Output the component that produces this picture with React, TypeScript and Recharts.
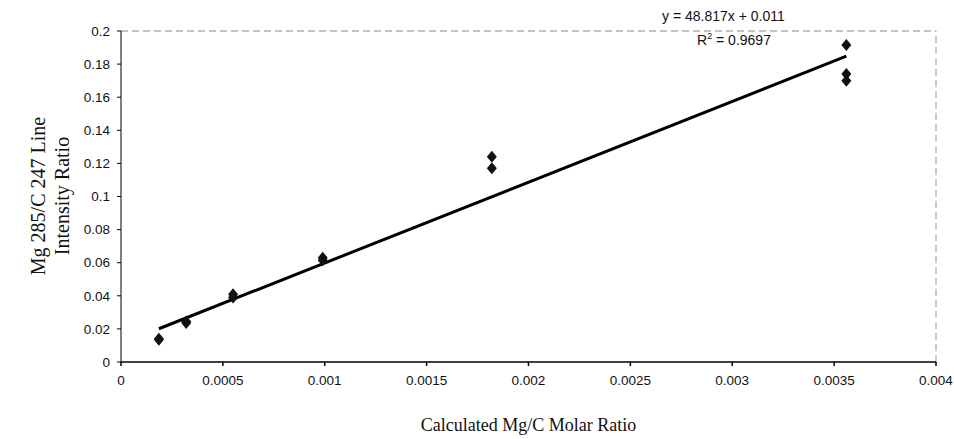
import { ComposedChart, Scatter, Line, XAxis, YAxis, ReferenceLine, Label } from "recharts"

// values
const molarRatio = [0.000186, 0.000186, 0.00032, 0.00032, 0.00055, 0.00055, 0.00099, 0.00099, 0.00182, 0.00182, 0.00356, 0.00356, 0.00356]
const intensityRatio = [0.0135, 0.014, 0.0236, 0.0245, 0.041, 0.039, 0.063, 0.0615, 0.124, 0.117, 0.1915, 0.174, 0.17]

// linear fit endpoints (y = 48.817x + 0.011)
const trendX = [0.000186, 0.00356]
const trendY = [0.0201, 0.1848]

const xTicks = [0, 0.0005, 0.001, 0.0015, 0.002, 0.0025, 0.003, 0.0035, 0.004]
const yTicks = [0, 0.02, 0.04, 0.06, 0.08, 0.1, 0.12, 0.14, 0.16, 0.18, 0.2]

const points = molarRatio.map((x, i) => ({ x, y: intensityRatio[i] }))
const trend = trendX.map((x, i) => ({ x, y: trendY[i] }))

const tickStyle = { fontFamily: "Liberation Sans, Arial, sans-serif", fontSize: 13.5, fill: "#111" }
const serif = "Liberation Serif, Times New Roman, serif"

const Diamond = (props: any) => {
  const { cx, cy } = props
  return (
    <polygon
      points={`${cx},${cy - 6} ${cx + 5},${cy} ${cx},${cy + 6} ${cx - 5},${cy}`}
      fill="#111"
    />
  )
}

const YTitle = () => (
  <g fontFamily={serif} fontSize={20} fill="#111" textAnchor="middle">
    <text transform="translate(45,196) rotate(-90)">Mg 285/C 247 Line</text>
    <text transform="translate(69,196) rotate(-90)">Intensity Ratio</text>
  </g>
)

export default function App() {
  return (
    <div style={{ position: "absolute", left: 0, top: 0, width: 954, height: 439, background: "#fff" }}>
      <ComposedChart width={954} height={439} margin={{ top: 31, right: 18, bottom: 0, left: 0 }}>
        <XAxis
          type="number"
          dataKey="x"
          domain={[0, 0.004]}
          ticks={xTicks}
          height={77}
          tick={tickStyle}
          tickSize={4}
          tickMargin={9}
          stroke="#000"
          strokeWidth={1.5}
          tickLine={{ stroke: "#000" }}
        >
          <Label
            value="Calculated Mg/C Molar Ratio"
            position="insideBottom"
            offset={8}
            style={{ fontFamily: serif, fontSize: 18, fill: "#111" }}
          />
        </XAxis>
        <YAxis
          type="number"
          dataKey="y"
          domain={[0, 0.2]}
          ticks={yTicks}
          width={121}
          tick={tickStyle}
          tickSize={4}
          tickMargin={7}
          stroke="#000"
          tickLine={{ stroke: "#000" }}
        >
          <Label content={() => <YTitle />} />
        </YAxis>
        <ReferenceLine y={0.2} stroke="#888" strokeDasharray="7 4" />
        <ReferenceLine x={0.004} stroke="#999" strokeDasharray="7 4" />
        <Line
          data={trend}
          dataKey="y"
          type="linear"
          stroke="#000"
          strokeWidth={3}
          dot={false}
          activeDot={false}
          isAnimationActive={false}
        />
        <Scatter data={points} dataKey="y" shape={<Diamond />} isAnimationActive={false} />
      </ComposedChart>
      <div
        style={{
          position: "absolute",
          left: 662,
          top: 8,
          fontFamily: "Liberation Sans, Arial, sans-serif",
          fontSize: 14,
          color: "#111",
          whiteSpace: "nowrap",
        }}
      >
        y = 48.817x + 0.011
      </div>
      <div
        style={{
          position: "absolute",
          left: 697,
          top: 31,
          fontFamily: "Liberation Sans, Arial, sans-serif",
          fontSize: 14,
          color: "#111",
          whiteSpace: "nowrap",
        }}
      >
        R<sup style={{ fontSize: 9 }}>2</sup> = 0.9697
      </div>
    </div>
  )
}
